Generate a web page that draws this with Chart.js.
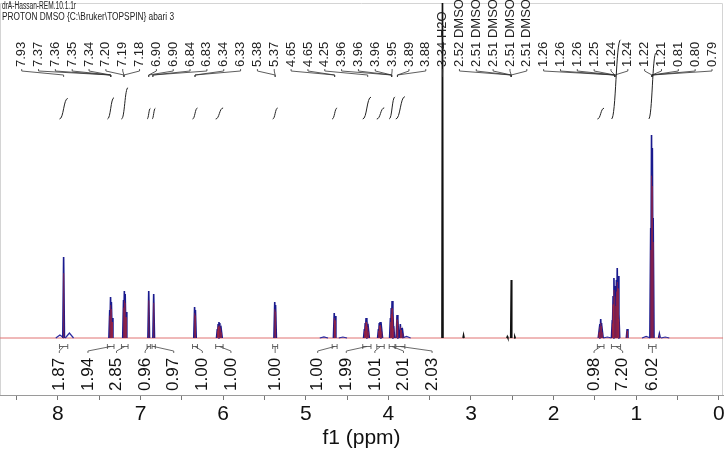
<!DOCTYPE html>
<html><head><meta charset="utf-8">
<script src="https://cdn.jsdelivr.net/npm/chart.js@4/dist/chart.umd.min.js"></script>
<style>html,body{margin:0;padding:0;background:#fff}#wrap{width:726px;height:455px}</style>
</head><body><div id="wrap"><canvas id="c" width="726" height="455"></canvas></div>
<script>
const titleLines = ['drA-Hassan-REM.10.1.1r', 'PROTON DMSO {C:\\Bruker\\TOPSPIN} abari 3'];
const axisTitle = 'f1 (ppm)';
const tickValues = [0, 0.5, 1, 1.5, 2, 2.5, 3, 3.5, 4, 4.5, 5, 5.5, 6, 6.5, 7, 7.5, 8, 8.5];

// sample resonance lines: chemical shift (ppm) and intensity above baseline
const samplePpm = [7.930, 7.372, 7.362, 7.352, 7.343, 7.205, 7.195, 7.185, 7.175, 6.900, 6.840,
  6.345, 6.335, 6.070, 6.060, 6.050, 6.040, 6.030, 6.020, 5.375, 5.365, 4.655, 4.645,
  4.290, 4.280, 4.270, 4.260, 4.250, 4.240, 4.120, 4.110, 4.100, 4.090, 4.080,
  3.975, 3.965, 3.955, 3.945, 3.935, 3.895, 3.885, 3.855, 3.845, 3.825,
  1.450, 1.440, 1.430, 1.420, 1.410, 1.290, 1.280, 1.270, 1.260, 1.250, 1.240, 1.230, 1.220, 1.210,
  1.110, 0.825, 0.815, 0.805, 0.795, 0.720];
const sampleHeight = [81, 28, 41, 36, 20, 38, 47, 44, 26, 47, 44,
  31, 28, 9, 14, 16, 15, 12, 7, 36, 33, 25, 22,
  9, 15, 20, 18, 14, 8, 9, 15, 16, 13, 8,
  20, 30, 37, 27, 12, 23, 19, 14, 10, 6,
  7, 14, 19, 15, 7, 18, 42, 60, 52, 40, 58, 70, 62, 24,
  9, 110, 203, 190, 120, 4];
// broad low humps of the sample trace
const humpPpm = [7.975, 7.860, 4.780, 4.550, 3.780, 1.350, 0.880, 0.650];
const humpHeight = [3, 5, 1.2, 1, 1.5, 1, 1.5, 1];
// solvent lines (water, DMSO)
const solventPpm = [3.345, 3.090, 2.560, 2.513, 2.470];
const solventHeight = [400, 3, 1.5, 58, 1.5];

// peak-pick labels and the shift each leader points to
const shiftLabels = ['7.93','7.37','7.36','7.35','7.34','7.20','7.19','7.18','6.90','6.90','6.84','6.83','6.34','6.33',
  '5.38','5.37','4.65','4.65','4.25','3.96','3.96','3.96','3.95','3.89','3.88','3.34 H2O',
  '2.52 DMSO','2.51 DMSO','2.51 DMSO','2.51 DMSO','2.51 DMSO',
  '1.26','1.26','1.26','1.25','1.24','1.24','1.22','1.21','0.81','0.80','0.79'];
const shiftTargets = [7.93, 7.36, 7.36, 7.36, 7.36, 7.20, 7.20, 7.20, 6.90, 6.90, 6.85, 6.85, 6.34, 6.34,
  5.37, 5.37, 4.65, 4.65, 4.25, 3.96, 3.96, 3.96, 3.96, 3.89, 3.89, 3.345,
  2.513, 2.513, 2.513, 2.513, 2.513,
  1.26, 1.26, 1.26, 1.26, 1.26, 1.26, 0.81, 0.81, 0.81, 0.81, 0.81];

// integration regions
const integralFrom = [7.98, 7.40, 7.23, 6.92, 6.86, 6.37, 6.09, 5.40, 4.68, 4.31, 4.14, 3.99, 3.91, 1.47, 1.30, 0.85];
const integralTo   = [7.88, 7.32, 7.15, 6.88, 6.82, 6.31, 6.00, 5.34, 4.62, 4.21, 4.05, 3.92, 3.80, 1.39, 1.19, 0.76];
const integralValues = ['1.87','1.94','2.85','0.96','0.97','1.00','1.00','1.00','1.00','1.99','1.01','2.01','2.03','0.98','7.20','6.02'];

function spikes(ppm, height, hw, k) {
  const pts = [];
  ppm.forEach((p, i) => {
    pts.push({x: p + hw, y: 0}, {x: p, y: height[i] * k}, {x: p - hw, y: 0}, {x: p - hw, y: null});
  });
  return pts;
}

const FONT = '"Liberation Sans", Arial, sans-serif';

const annot = {
  id: 'annot',
  beforeDatasetsDraw(chart) {
    const ctx = chart.ctx, ca = chart.chartArea;
    ctx.save();
    ctx.strokeStyle = '#d4d4d4'; ctx.lineWidth = 1;
    ctx.beginPath();
    ctx.moveTo(ca.left + 0.5, ca.bottom); ctx.lineTo(ca.left + 0.5, ca.top + 0.5);
    ctx.lineTo(ca.right - 0.5, ca.top + 0.5); ctx.lineTo(ca.right - 0.5, ca.bottom);
    ctx.stroke();
    ctx.restore();
  },
  afterDatasetsDraw(chart) {
    const ctx = chart.ctx, xs = chart.scales.x, ca = chart.chartArea;
    ctx.save();
    // header lines
    ctx.fillStyle = '#222';
    ctx.font = '10px ' + FONT;
    ctx.textAlign = 'left'; ctx.textBaseline = 'top';
    ctx.fillText(titleLines[0], 2, 1, 74);
    ctx.fillText(titleLines[1], 2, 12, 172);

    // peak-pick labels
    const n = shiftLabels.length;
    const x0 = ca.left + 21.7, x1 = ca.right - 11;
    const step = (x1 - x0) / (n - 1);
    ctx.font = '13px ' + FONT;
    ctx.strokeStyle = '#333'; ctx.lineWidth = 0.8;
    for (let i = 0; i < n; i++) {
      const lx = x0 + i * step;
      ctx.save();
      ctx.translate(lx, 67); ctx.rotate(-Math.PI / 2);
      ctx.textAlign = 'left'; ctx.textBaseline = 'middle';
      ctx.fillText(shiftLabels[i], 0, 0);
      ctx.restore();
      const tx = xs.getPixelForValue(shiftTargets[i]);
      ctx.beginPath();
      ctx.moveTo(lx, 69); ctx.lineTo(lx, 71); ctx.lineTo(tx, 75); ctx.lineTo(tx, 77);
      ctx.stroke();
    }

    // integral curves
    const yb = 119, perUnit = 11;
    ctx.strokeStyle = '#222'; ctx.lineWidth = 1;
    for (let i = 0; i < integralValues.length; i++) {
      const xa = xs.getPixelForValue(integralFrom[i]);
      const xb = xs.getPixelForValue(integralTo[i]);
      const yt = yb - perUnit * parseFloat(integralValues[i]);
      const xm = (xa + xb) / 2;
      ctx.beginPath();
      ctx.moveTo(xa, yb);
      ctx.bezierCurveTo(xm, yb, xm, yt, xb, yt);
      ctx.stroke();
    }

    // integral brackets and values below baseline
    const centers = integralFrom.map((f, i) => (xs.getPixelForValue(f) + xs.getPixelForValue(integralTo[i])) / 2);
    const gap = 28.6;
    let clusters = centers.map(c => ({sum: c, n: 1}));
    let merged = true;
    while (merged) {
      merged = false;
      for (let i = 0; i < clusters.length - 1; i++) {
        const a = clusters[i], b = clusters[i + 1];
        const aStart = a.sum / a.n - (a.n - 1) * gap / 2;
        const bStart = b.sum / b.n - (b.n - 1) * gap / 2;
        if (aStart + a.n * gap > bStart) {
          clusters.splice(i, 2, {sum: a.sum + b.sum, n: a.n + b.n});
          merged = true; break;
        }
      }
    }
    const labelX = [];
    clusters.forEach(c => {
      const s = c.sum / c.n - (c.n - 1) * gap / 2;
      for (let k = 0; k < c.n; k++) labelX.push(s + k * gap);
    });
    ctx.strokeStyle = '#444'; ctx.lineWidth = 0.8;
    ctx.font = '17px ' + FONT; ctx.fillStyle = '#111';
    for (let i = 0; i < integralValues.length; i++) {
      const xa = xs.getPixelForValue(integralFrom[i]);
      const xb = xs.getPixelForValue(integralTo[i]);
      ctx.beginPath();
      ctx.moveTo(xa, 344); ctx.lineTo(xa, 349);
      ctx.moveTo(xb, 344); ctx.lineTo(xb, 349);
      ctx.moveTo(xa, 346.5); ctx.lineTo(xb, 346.5);
      ctx.moveTo(centers[i], 346.5); ctx.lineTo(labelX[i], 351); ctx.lineTo(labelX[i], 353);
      ctx.stroke();
      ctx.save();
      ctx.translate(labelX[i], 391); ctx.rotate(-Math.PI / 2);
      ctx.textAlign = 'left'; ctx.textBaseline = 'middle';
      ctx.fillText(integralValues[i], 0, 0);
      ctx.restore();
    }
    ctx.restore();
  }
};

const common = {pointRadius: 0, fill: false, tension: 0, spanGaps: false};
new Chart(document.getElementById('c'), {
  type: 'line',
  data: {
    datasets: [
      Object.assign({data: spikes(samplePpm, sampleHeight, 0.002, 0.8), borderColor: 'rgba(200,40,40,0.55)', borderWidth: 0.6}, common),
      Object.assign({data: spikes(samplePpm, sampleHeight, 0.010, 1), borderColor: '#1a1a8e', borderWidth: 1.6}, common),
      Object.assign({data: spikes(humpPpm, humpHeight, 0.05, 1), borderColor: '#2a2aa0', borderWidth: 1.2}, common),
      Object.assign({data: spikes(solventPpm, solventHeight, 0.007, 1), borderColor: '#111111', borderWidth: 1.5}, common),
      Object.assign({data: [{x: 8.7, y: 0}, {x: -0.05, y: 0}], borderColor: '#e07272', borderWidth: 1}, common)
    ]
  },
  options: {
    responsive: false, animation: false,
    layout: {padding: {top: 3, right: 3, left: 0, bottom: 0}},
    plugins: {legend: {display: false}, tooltip: {enabled: false}, title: {display: false}},
    scales: {
      x: {
        type: 'linear', reverse: true, min: -0.05, max: 8.7,
        afterBuildTicks: s => { s.ticks = tickValues.map(v => ({value: v})); },
        afterFit: s => { s.height = 60; },
        ticks: {callback: v => Number.isInteger(v) ? String(v) : '', autoSkip: false, maxRotation: 0,
          font: {family: FONT, size: 21}, color: '#111', padding: 2},
        grid: {drawOnChartArea: false, drawTicks: true, tickLength: 5, color: '#777'},
        border: {display: true, color: '#9a9a9a', width: 1},
        title: {display: true, text: axisTitle, font: {family: FONT, size: 21}, color: '#111', padding: {top: 2, bottom: 4}}
      },
      y: {type: 'linear', display: false, min: -57, max: 335}
    }
  },
  plugins: [annot]
});
</script>
</body></html>
